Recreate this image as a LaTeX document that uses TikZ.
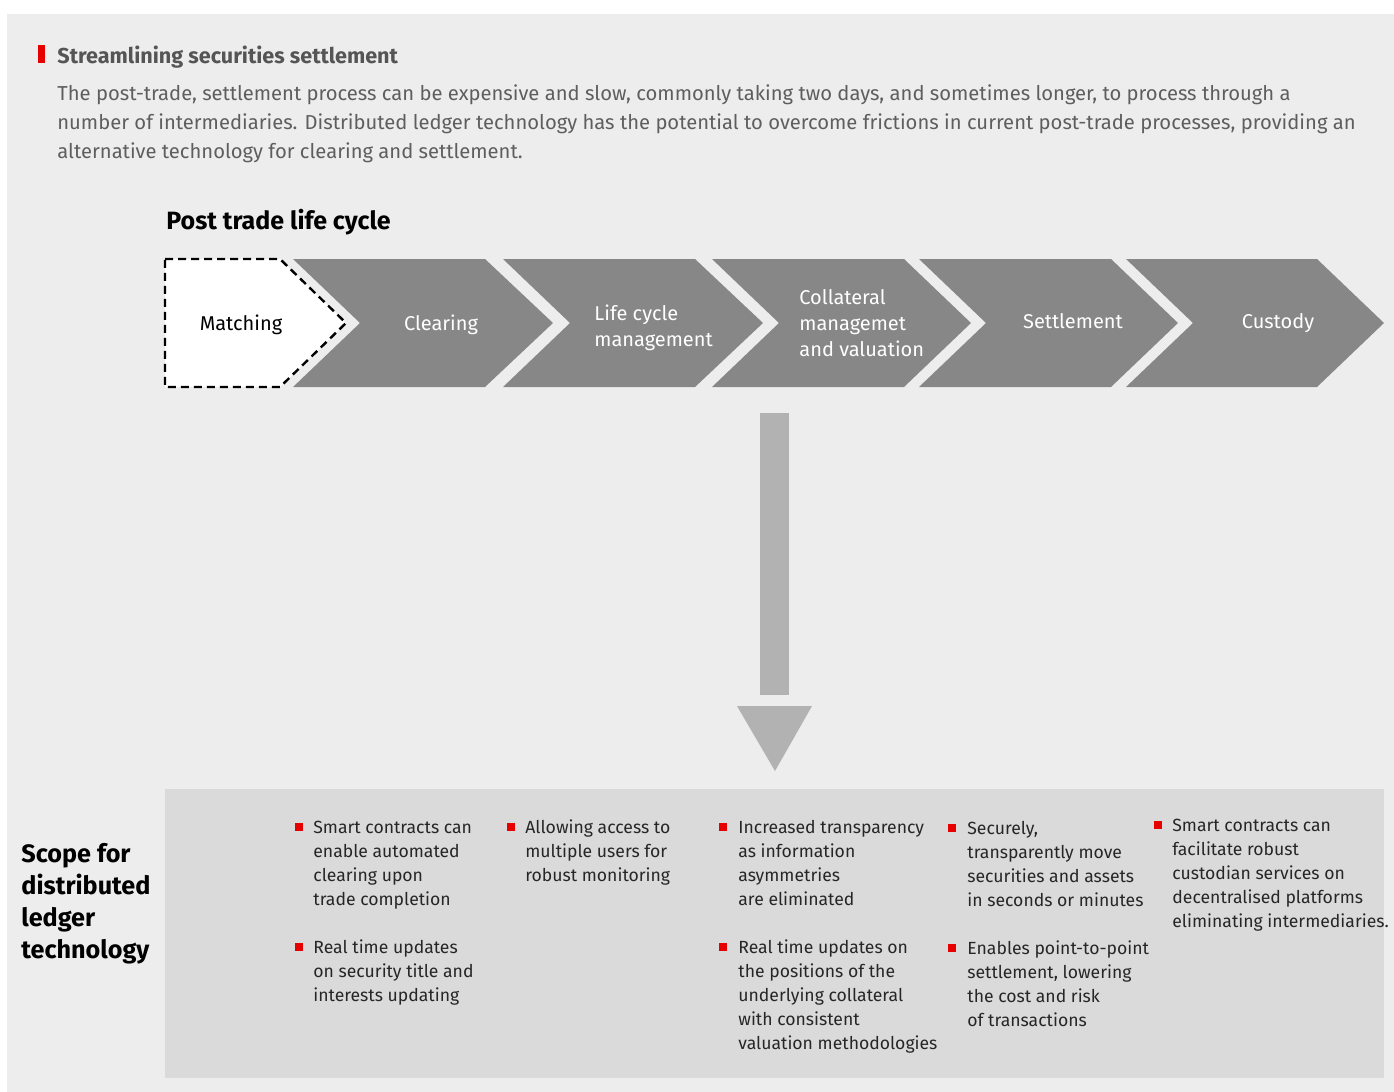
\documentclass[tikz,border=0pt]{standalone}
\usepackage{fontspec}
\setmainfont{Fira Sans}
\usetikzlibrary{positioning}
\definecolor{panel}{HTML}{EDEDED}
\definecolor{scopebg}{HTML}{DADADA}
\definecolor{chev}{HTML}{878787}
\definecolor{downarrow}{HTML}{B2B2B2}
\definecolor{markred}{HTML}{E60000}
\definecolor{introgray}{HTML}{5E5E5E}
\tikzset{
  chevron/.style={fill=chev,draw=none},
  chevlabel/.style={text=white,font=\fontsize{10}{13}\selectfont,align=left,inner sep=0pt},
  bulletbox/.style={fill=markred,minimum size=4pt,inner sep=0pt},
  bullettext/.style={anchor=base west,align=left,inner sep=0pt,text=black!85,font=\fontsize{8.8}{12}\selectfont},
}
\begin{document}
\begin{tikzpicture}[x=0.5pt,y=-0.5pt]
      \useasboundingbox (0,0) rectangle (1394,1092);
      \fill[panel] (7,14) rectangle (1394,1092);
      \fill[markred] (38,45) rectangle (45,63);
      \node[anchor=base west,inner sep=0pt,text=introgray!90!black,font=\fontsize{10.8}{14.5}\selectfont\bfseries] (title) at (57,63) {Streamlining securities settlement};
      \node[anchor=base west,inner sep=0pt,align=left,text=introgray,font=\fontsize{10.1}{14.5}\selectfont] (intro) at (57,158)
        {The post-trade, settlement process can be expensive and slow, commonly taking two days, and sometimes longer, to process through a\\
         number of intermediaries. Distributed ledger technology has the potential to overcome frictions in current post-trade processes, providing an\\
         alternative technology for clearing and settlement.};
      \node[anchor=base west,inner sep=0pt,font=\fontsize{12.5}{15}\selectfont\bfseries] (lifecycle title) at (166,229) {Post trade life cycle};
      \draw[dash pattern=on 4pt off 2.5pt,line width=1.2pt,fill=white] (165,259) -- (280,259) -- (346,323) -- (280,387) -- (165,387) -- cycle;
      \fill[chevron] (293,259) -- (485,259) -- (553,323) -- (485,387) -- (293,387) -- (360,323) -- cycle;
      \fill[chevron] (503,259) -- (695,259) -- (763,323) -- (695,387) -- (503,387) -- (570,323) -- cycle;
      \fill[chevron] (712,259) -- (904,259) -- (971,323) -- (904,387) -- (712,387) -- (779,323) -- cycle;
      \fill[chevron] (919,259) -- (1111,259) -- (1178,323) -- (1111,387) -- (919,387) -- (986,323) -- cycle;
      \fill[chevron] (1126,259) -- (1317,259) -- (1384,323) -- (1317,387) -- (1126,387) -- (1193,323) -- cycle;
      \node[chevlabel,text=black] (matching) at (241,325) {Matching};
      \node[chevlabel] (clearing) at (441,325) {Clearing};
      \node[chevlabel,anchor=west] (lifecycle) at (594,328) {Life cycle\\management};
      \node[chevlabel,anchor=west] (collateral) at (799,323) {Collateral\\managemet\\and valuation};
      \node[chevlabel] (settlement) at (1073,321) {Settlement};
      \node[chevlabel] (custody) at (1278,323) {Custody};
      \fill[downarrow] (760,413) rectangle (789,695);
      \fill[downarrow] (737,706) -- (812,706) -- (775,771) -- cycle;
      \fill[scopebg] (165,789) rectangle (1384,1078);
      \node[anchor=base west,inner sep=0pt,align=left,font=\fontsize{12.6}{16}\selectfont\bfseries] (scope) at (21,958)
        {Scope for\\distributed\\ledger\\technology};
      \node[bullettext] (clear1) at (313,905) {Smart contracts can\\enable automated\\clearing upon\\trade completion};
      \node[bullettext] (clear2) at (313,1001) {Real time updates\\on security title and\\interests updating};
      \node[bullettext] (life1) at (525,881) {Allowing access to\\multiple users for\\robust monitoring};
      \node[bullettext] (coll1) at (738,905) {Increased transparency\\as information\\asymmetries\\are eliminated};
      \node[bullettext] (coll2) at (738,1049) {Real time updates on\\the positions of the\\underlying collateral\\with consistent\\valuation methodologies};
      \node[bullettext] (settle1) at (967,906) {Securely,\\transparently move\\securities and assets\\in seconds or minutes};
      \node[bullettext] (settle2) at (967,1026) {Enables point-to-point\\settlement, lowering\\the cost and risk\\of transactions};
      \node[bullettext] (cust1) at (1172,927) {Smart contracts can\\facilitate robust\\custodian services on\\decentralised platforms\\eliminating intermediaries.};
      \node[bulletbox] at (299,827) {};
      \node[bulletbox] at (299,947) {};
      \node[bulletbox] at (511,827) {};
      \node[bulletbox] at (723,827) {};
      \node[bulletbox] at (723,947) {};
      \node[bulletbox] at (952,828) {};
      \node[bulletbox] at (952,948) {};
      \node[bulletbox] at (1158,825) {};
    \end{tikzpicture}
\end{document}
